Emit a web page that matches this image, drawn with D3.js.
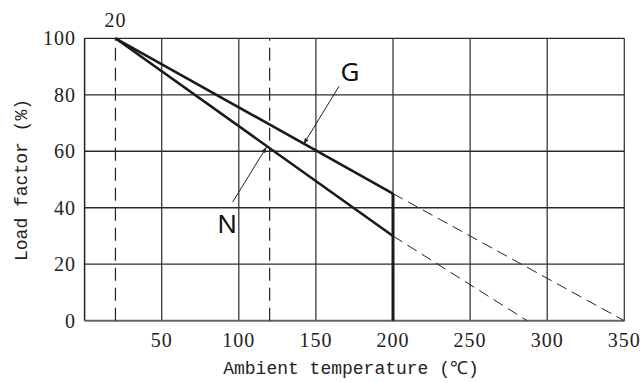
<!DOCTYPE html>
<html>
<head>
<meta charset="utf-8">
<script src="https://cdn.jsdelivr.net/npm/d3@7"></script>
<style>
  html, body { margin: 0; padding: 0; background: #fff; }
  svg { display: block; }
</style>
</head>
<body>
<svg id="chart" width="643" height="383"></svg>
<script>
// ---- data ----
const xTicks = [50, 100, 150, 200, 250, 300, 350];
const yTicks = [0, 20, 40, 60, 80, 100];
const refTemps = [20, 120];             // dashed vertical reference lines
const cutoffTemp = 200;                 // solid vertical limit
const seriesNames = ["G", "N"];
const gSolid = [[20, 100], [200, 45]];
const gDashed = [[200, 45], [350, 0]];
const nSolid = [[20, 100], [200, 30]];
const nDashed = [[200, 30], [287, 0]];
const gArrow = [[165, 83], [142, 62.5]];  // [label-end, tip] in data units
const nArrow = [[96, 42], [118, 61.5]];
const xTitle = "Ambient temperature (℃)";
const yTitle = "Load factor (%)";

// ---- layout ----
const svg = d3.select("#chart");
const x = d3.scaleLinear().domain([0, 350]).range([84.6, 624.3]);
const y = d3.scaleLinear().domain([0, 100]).range([320.7, 38.3]);
const line = d3.line().x(d => x(d[0])).y(d => y(d[1]));

const defs = svg.append("defs");
defs.append("marker").attr("id", "arr").attr("viewBox", "0 0 10 10")
  .attr("refX", 10).attr("refY", 5).attr("markerWidth", 9).attr("markerHeight", 6)
  .attr("markerUnits", "userSpaceOnUse").attr("orient", "auto")
  .append("path").attr("d", "M0,1.5 L10,5 L0,8.5 Z").attr("fill", "#222");

// grid - vertical
svg.append("g").selectAll("line").data(xTicks).join("line")
  .attr("x1", d => x(d)).attr("x2", d => x(d))
  .attr("y1", y(0)).attr("y2", y(100))
  .attr("stroke", "#3a3a3a").attr("stroke-width", 1.3);
// grid - horizontal
svg.append("g").selectAll("line").data(yTicks.filter(d => d > 0)).join("line")
  .attr("x1", x(0)).attr("x2", x(350))
  .attr("y1", d => y(d)).attr("y2", d => y(d))
  .attr("stroke", "#2a2a2a").attr("stroke-width", 1.3);
// left axis
svg.append("line").attr("x1", x(0)).attr("x2", x(0)).attr("y1", y(0)).attr("y2", y(100))
  .attr("stroke", "#222").attr("stroke-width", 1.5);
// bottom axis
svg.append("line").attr("x1", x(0)).attr("x2", x(350)).attr("y1", y(0)).attr("y2", y(0))
  .attr("stroke", "#666").attr("stroke-width", 2);

// dashed vertical reference lines
svg.append("g").selectAll("line").data(refTemps).join("line")
  .attr("x1", d => x(d)).attr("x2", d => x(d))
  .attr("y1", y(0)).attr("y2", y(100))
  .attr("stroke", "#222").attr("stroke-width", 1.2)
  .attr("stroke-dasharray", "13,7");

// dashed extrapolations
[gDashed, nDashed].forEach(s => {
  svg.append("path").attr("d", line(s)).attr("fill", "none")
    .attr("stroke", "#222").attr("stroke-width", 1).attr("stroke-dasharray", "11,6");
});
// solid curves
[gSolid, nSolid].forEach(s => {
  svg.append("path").attr("d", line(s)).attr("fill", "none")
    .attr("stroke", "#1a1a1a").attr("stroke-width", 2.6);
});
// vertical cutoff
svg.append("line").attr("x1", x(cutoffTemp)).attr("x2", x(cutoffTemp))
  .attr("y1", y(0)).attr("y2", y(gSolid[1][1]))
  .attr("stroke", "#1a1a1a").attr("stroke-width", 3);

// arrows
[gArrow, nArrow].forEach(a => {
  svg.append("path").attr("d", line(a)).attr("fill", "none")
    .attr("stroke", "#222").attr("stroke-width", 1).attr("marker-end", "url(#arr)");
});

// series labels
svg.append("text").attr("x", x(166)).attr("y", y(83) - 5).text(seriesNames[0])
  .attr("font-family", "Noto Sans, sans-serif").attr("font-size", 26).attr("fill", "#111")
  .attr("text-anchor", "start");
svg.append("text").attr("x", x(86)).attr("y", y(32) + 3).text(seriesNames[1])
  .attr("font-family", "Noto Sans, sans-serif").attr("font-size", 26).attr("fill", "#111")
  .attr("text-anchor", "start");

// tick labels
const serif = "Liberation Serif, serif";
svg.append("g").selectAll("text").data(xTicks).join("text")
  .attr("x", d => x(d)).attr("y", 347).text(d => d)
  .attr("text-anchor", "middle").attr("font-family", serif).attr("font-size", 20)
  .attr("letter-spacing", 1).attr("fill", "#222");
svg.append("g").selectAll("text").data(yTicks).join("text")
  .attr("x", 76).attr("y", d => y(d) + 7).text(d => d)
  .attr("text-anchor", "end").attr("font-family", serif).attr("font-size", 20)
  .attr("letter-spacing", 1).attr("fill", "#222");
svg.append("text").attr("x", x(refTemps[0])).attr("y", 27).text(refTemps[0])
  .attr("text-anchor", "middle").attr("font-family", serif).attr("font-size", 20)
  .attr("letter-spacing", 1).attr("fill", "#222");

// axis titles
const mono = "Liberation Mono, monospace";
svg.append("text").attr("x", 351).attr("y", 374).text(xTitle)
  .attr("text-anchor", "middle").attr("font-family", mono).attr("font-size", 18)
  .attr("fill", "#222");
svg.append("text").attr("transform", "translate(27,180) rotate(-90)").text(yTitle)
  .attr("text-anchor", "middle").attr("font-family", mono).attr("font-size", 18)
  .attr("fill", "#222");
</script>
</body>
</html>
